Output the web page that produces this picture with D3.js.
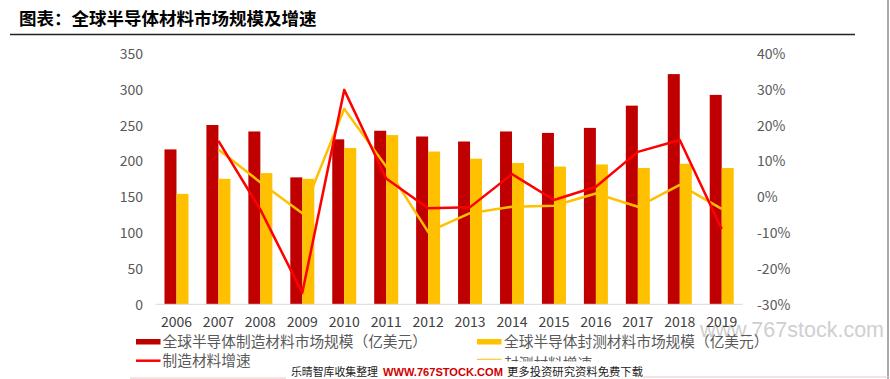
<!DOCTYPE html>
<html><head><meta charset="utf-8">
<script src="https://cdn.jsdelivr.net/npm/d3@7"></script>
<style>body{margin:0;background:#fff}svg{display:block}</style>
</head><body>
<script>
const years = ["2006","2007","2008","2009","2010","2011","2012","2013","2014","2015","2016","2017","2018","2019"];
const mfgSize = [216,250,241,177,230,242,234,227,241,239,246,277,321,292];
const pkgSize = [154,175,183,175,218,236,213,203,197,192,195,190,196,190];
const mfgGrowth = [null,15.6,-3.6,-26.8,29.8,5.1,-3.2,-2.9,6.3,-0.9,2.8,12.5,15.8,-9.0];
const pkgGrowth = [null,13.2,4.0,-4.6,24.5,8.4,-9.8,-4.6,-2.8,-2.5,0.9,-2.8,3.3,-3.4];
const leftTicks = [0,50,100,150,200,250,300,350];
const rightTicks = [-30,-20,-10,0,10,20,30,40];
const seriesNames = ["全球半导体制造材料市场规模（亿美元）","全球半导体封测材料市场规模（亿美元）","制造材料增速","封测材料增速"];
const title = "图表：全球半导体材料市场规模及增速";

const W=890,H=379;
const svg=d3.select("body").append("svg").attr("width",W).attr("height",H);
const font="'Noto Sans CJK SC','Noto Sans',sans-serif";
const grey="#595959";

// title
svg.append("text").attr("x",19).attr("y",25).text(title)
  .attr("font-family",font).attr("font-weight","bold").attr("font-size",17.5).attr("fill","#000");
svg.append("line").attr("x1",10).attr("x2",855).attr("y1",34.5).attr("y2",34.5).attr("stroke","#222").attr("stroke-width",1.5);
svg.append("line").attr("x1",888).attr("x2",888).attr("y1",0).attr("y2",379).attr("stroke","#555").attr("stroke-width",1);

const x0=155.5,x1=742.7,yBase=304.3,yTop=53.3;
const x=d3.scaleBand().domain(years).range([x0,x1]).paddingInner(0).paddingOuter(0);
const yL=d3.scaleLinear().domain([0,350]).range([yBase,yTop]);
const yR=d3.scaleLinear().domain([-30,40]).range([yBase,yTop]);
const bw=12;
const cx=d=>x(d)+x.bandwidth()/2;

// watermark (behind)
svg.append("text").attr("x",700).attr("y",337).text("www.767stock.com")
  .attr("font-family","'Liberation Sans',Arial,sans-serif").attr("font-size",21.5).attr("fill","#c4c4c4").attr("opacity",0.8);

// bars
const g=svg.append("g");
g.selectAll(".m").data(years).join("rect")
  .attr("x",d=>cx(d)-bw).attr("width",bw)
  .attr("y",(d,i)=>yL(mfgSize[i])).attr("height",(d,i)=>yBase-yL(mfgSize[i]))
  .attr("fill","#c00000");
g.selectAll(".p").data(years).join("rect")
  .attr("x",d=>cx(d)).attr("width",bw)
  .attr("y",(d,i)=>yL(pkgSize[i])).attr("height",(d,i)=>yBase-yL(pkgSize[i]))
  .attr("fill","#ffc000");

// x axis line
svg.append("line").attr("x1",x0).attr("x2",x1).attr("y1",yBase).attr("y2",yBase).attr("stroke","#d9d9d9").attr("stroke-width",1);

// lines
const lineGen=arr=>d3.line().defined((d,i)=>arr[i]!=null).x(d=>cx(d)).y((d,i)=>yR(arr[i]));
svg.append("path").datum(years).attr("d",lineGen(pkgGrowth)).attr("fill","none").attr("stroke","#ffc000").attr("stroke-width",2.5).attr("stroke-linejoin","round");
svg.append("path").datum(years).attr("d",lineGen(mfgGrowth)).attr("fill","none").attr("stroke","#ff0000").attr("stroke-width",2.5).attr("stroke-linejoin","round");

// axes labels
const axL=svg.append("g").attr("transform",`translate(143,0)`)
  .call(d3.axisLeft(yL).tickValues(leftTicks).tickSize(0).tickPadding(0));
axL.select(".domain").remove();
axL.selectAll("text").attr("font-family",font).attr("font-size",14).attr("fill",grey).attr("dy","0.36em");
const axR=svg.append("g").attr("transform",`translate(757,0)`)
  .call(d3.axisRight(yR).tickValues(rightTicks).tickSize(0).tickPadding(0).tickFormat(d=>d+"%"));
axR.select(".domain").remove();
axR.selectAll("text").attr("font-family",font).attr("font-size",14).attr("fill",grey).attr("dy","0.36em");
const axB=svg.append("g").attr("transform",`translate(0,${yBase})`)
  .call(d3.axisBottom(x).tickSize(0).tickPadding(14));
axB.select(".domain").remove();
axB.selectAll("text").attr("font-family",font).attr("font-size",14).attr("fill","#404040").attr("dy","0.6em");

// legend
const leg=svg.append("g").attr("font-family",font).attr("font-size",14.7).attr("fill",grey);
leg.append("rect").attr("x",136).attr("y",339).attr("width",24.5).attr("height",5.5).attr("fill","#c00000");
leg.append("text").attr("x",162.5).attr("y",342).attr("dy","0.36em").text(seriesNames[0]);
leg.append("rect").attr("x",477).attr("y",339).attr("width",24.5).attr("height",5.5).attr("fill","#ffc000");
leg.append("text").attr("x",504).attr("y",342).attr("dy","0.36em").text(seriesNames[1]);
leg.append("line").attr("x1",136).attr("x2",160.5).attr("y1",360.7).attr("y2",360.7).attr("stroke","#ff0000").attr("stroke-width",2.5);
leg.append("text").attr("x",162.5).attr("y",361).attr("dy","0.36em").text(seriesNames[2]);
leg.append("line").attr("x1",477).attr("x2",501.5).attr("y1",359.3).attr("y2",359.3).attr("stroke","#ffc000").attr("stroke-width",1);
leg.append("text").attr("x",504).attr("y",363.5).attr("dy","0.36em").text(seriesNames[3]);

// bottom strip
svg.append("rect").attr("x",284).attr("y",361.5).attr("width",362).attr("height",18).attr("fill","#fff");
svg.append("line").attr("x1",130).attr("x2",286).attr("y1",378).attr("y2",378).attr("stroke","#f4c4c4");
svg.append("line").attr("x1",643).attr("x2",890).attr("y1",377).attr("y2",377).attr("stroke","#f4c4c4");
svg.append("text").attr("x",291).attr("y",376).attr("font-family",font).attr("font-size",11).attr("fill","#222")
  .attr("textLength",87).attr("lengthAdjust","spacingAndGlyphs").text("乐晴智库收集整理");
svg.append("text").attr("x",383).attr("y",376).attr("font-family","'Liberation Sans',Arial,sans-serif").attr("font-weight","bold")
  .attr("font-size",11.5).attr("fill","#d00000").attr("textLength",120).attr("lengthAdjust","spacingAndGlyphs").text("WWW.767STOCK.COM");
svg.append("text").attr("x",507).attr("y",376).attr("font-family",font).attr("font-size",11.3).attr("fill","#222")
  .attr("textLength",136).attr("lengthAdjust","spacingAndGlyphs").text("更多投资研究资料免费下载");
</script>
</body></html>
